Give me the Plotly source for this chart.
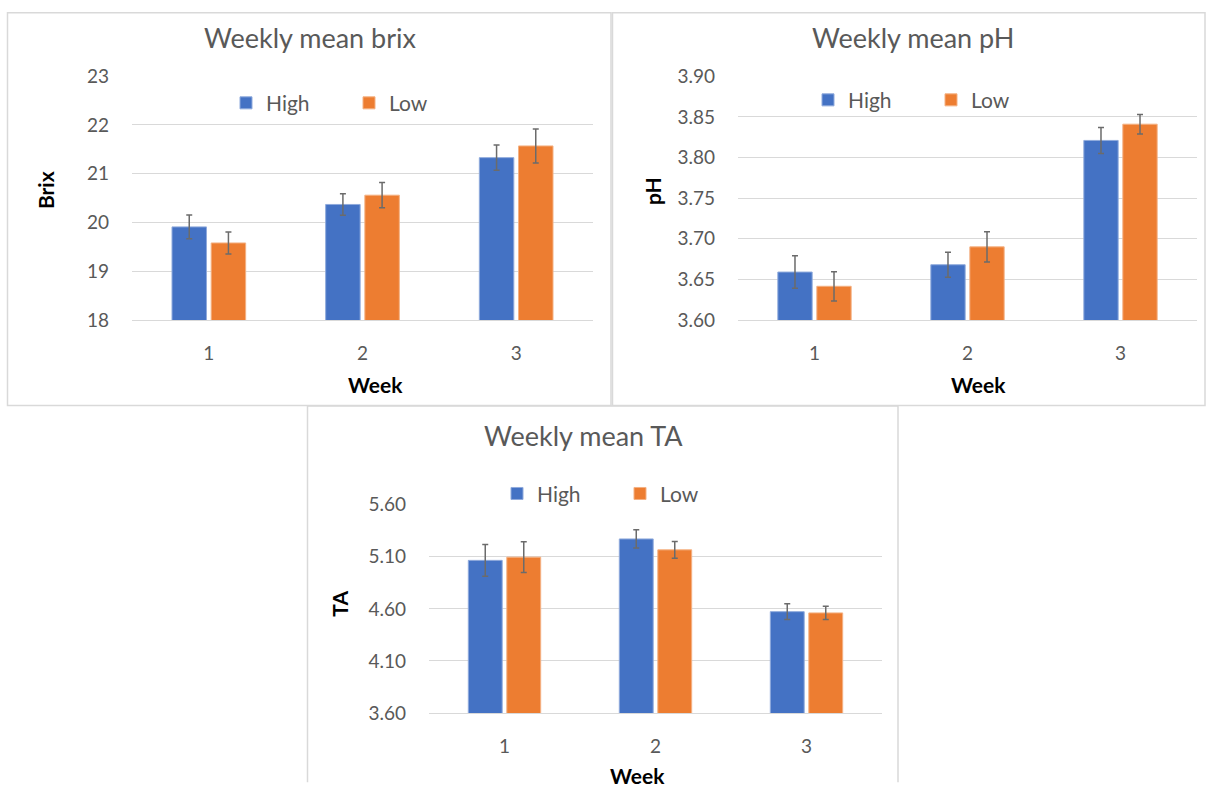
import plotly.graph_objects as go

weeks = ["1", "2", "3"]

brix_high = [19.91, 20.37, 21.33]
brix_high_err = [0.245, 0.22, 0.26]
brix_low = [19.58, 20.56, 21.57]
brix_low_err = [0.225, 0.26, 0.35]

ph_high = [3.659, 3.668, 3.821]
ph_high_err = [0.020, 0.0155, 0.016]
ph_low = [3.6415, 3.690, 3.841]
ph_low_err = [0.018, 0.0185, 0.012]

ta_high = [5.066, 5.272, 4.573]
ta_high_err = [0.153, 0.088, 0.075]
ta_low = [5.097, 5.167, 4.561]
ta_low_err = [0.147, 0.080, 0.063]

W, H = 1207, 794
# vertical placement helpers (target pixel -> page pixel)
YA, YB = 10.7, 0.972
BLUE = "#4472C4"
ORANGE = "#ED7D31"
GRID = "#D9D9D9"
TXT = "#595959"
FONT = "Lato"


def px_x(p):
    return p / W


def px_y(p):
    page = (p - YA) / YB
    page = min(max(page, 0.75), H - 0.75)
    return 1 - page / H


fig = go.Figure()

charts = [
    dict(ax="", high=brix_high, he=brix_high_err, low=brix_low, le=brix_low_err,
         legend="legend"),
    dict(ax="2", high=ph_high, he=ph_high_err, low=ph_low, le=ph_low_err,
         legend="legend2"),
    dict(ax="3", high=ta_high, he=ta_high_err, low=ta_low, le=ta_low_err,
         legend="legend3"),
]

for c in charts:
    for name, vals, errs, col, edge in [
        ("High", c["high"], c["he"], BLUE, "#8FAADC"),
        ("Low", c["low"], c["le"], ORANGE, "#F4B183"),
    ]:
        fig.add_trace(go.Bar(
            x=weeks, y=vals, name=name,
            marker=dict(color=col, line=dict(color=edge, width=1)),
            error_y=dict(type="data", array=errs, color="#6B6B6B",
                         thickness=1.5, width=3),
            xaxis="x" + c["ax"], yaxis="y" + c["ax"],
            legend=c["legend"],
        ))

xdoms = [(132, 593), (738, 1197), (429, 882)]
ydoms = [(75, 319), (75, 319), (504, 712.3)]

layout = dict(
    width=W, height=H,
    margin=dict(l=0, r=0, t=0, b=0),
    paper_bgcolor="white", plot_bgcolor="white",
    barmode="group", bargap=0.49, bargroupgap=0.12,
    showlegend=True,
    font=dict(family=FONT, color=TXT),
)

yranges = [[18, 23], [3.6, 3.9], [3.6, 5.6]]
ytickvals = [[18, 19, 20, 21, 22, 23],
             [3.60, 3.65, 3.70, 3.75, 3.80, 3.85, 3.90],
             [3.60, 4.10, 4.60, 5.10, 5.60]]
yfmt = ["d", ".2f", ".2f"]

for i, suf in enumerate(["", "2", "3"]):
    xd = xdoms[i]
    yd = ydoms[i]
    layout["xaxis" + suf] = dict(
        domain=[px_x(xd[0]), px_x(xd[1])], anchor="y" + suf,
        type="category", showgrid=False, showline=True, linecolor=GRID,
        linewidth=1, ticks="", ticklabelstandoff=16,
        tickfont=dict(family=FONT, size=19, color=TXT),
        fixedrange=True,
    )
    layout["yaxis" + suf] = dict(
        domain=[px_y(yd[1]), px_y(yd[0])], anchor="x" + suf,
        range=yranges[i], tickvals=ytickvals[i], tickformat=yfmt[i],
        ticks="", ticklabelstandoff=22, showline=False,
        showgrid=True, gridcolor=GRID, gridwidth=1, zeroline=False,
        tickfont=dict(family=FONT, size=19, color=TXT),
        fixedrange=True,
    )

leg_common = dict(
    orientation="h", xanchor="left", yanchor="middle",
    font=dict(family=FONT, size=21, color=TXT),
    bgcolor="rgba(0,0,0,0)", entrywidth=78, entrywidthmode="pixels",
    itemclick=False, itemdoubleclick=False,
)
layout["legend"] = dict(x=px_x(226), y=px_y(102), **leg_common)
layout["legend2"] = dict(x=px_x(808), y=px_y(99), **leg_common)
layout["legend3"] = dict(x=px_x(497), y=px_y(493), **leg_common)

fig.update_layout(**layout)

# panel borders
panels = [(7.5, 7.5, 611, 404.5), (612.5, 7.5, 1205, 404.5)]
for x0, y0, x1, y1 in panels:
    fig.add_shape(type="rect", xref="paper", yref="paper",
                  x0=px_x(x0), x1=px_x(x1), y0=px_y(y0), y1=px_y(y1),
                  line=dict(color=GRID, width=1.5), layer="below")
# bottom panel: left, top and right edges (its bottom edge lies off-page)
for (xa, ya, xb, yb) in [(307.5, 405, 307.5, 800), (307.5, 405, 898, 405),
                         (898, 405, 898, 800)]:
    fig.add_shape(type="line", xref="paper", yref="paper",
                  x0=px_x(xa), x1=px_x(xb), y0=px_y(ya), y1=px_y(yb),
                  line=dict(color=GRID, width=1.5), layer="below")

ann = []
titles = [("Weekly mean brix", 310, 36), ("Weekly mean pH", 913, 36),
          ("Weekly mean TA", 583, 435)]
for t, x, y in titles:
    ann.append(dict(text=t, x=px_x(x), y=px_y(y), xref="paper", yref="paper",
                    showarrow=False, xanchor="center", yanchor="middle",
                    font=dict(family=FONT, size=27, color=TXT)))
xtitles = [(375, 384), (978, 384), (637, 775)]
for x, y in xtitles:
    ann.append(dict(text="<b>Week</b>", x=px_x(x), y=px_y(y), xref="paper",
                    yref="paper", showarrow=False, xanchor="center",
                    yanchor="middle",
                    font=dict(family=FONT, size=21, color="black")))
ytitles = [("Brix", 45, 189), ("pH", 652, 190), ("TA", 340, 603)]
for t, x, y in ytitles:
    ann.append(dict(text="<b>" + t + "</b>", x=px_x(x), y=px_y(y),
                    xref="paper", yref="paper", showarrow=False,
                    xanchor="center", yanchor="middle", textangle=-90,
                    font=dict(family=FONT, size=21, color="black")))
fig.update_layout(annotations=ann)

fig.write_html("out.html", post_script="document.body.style.margin='0';",
               config={"displayModeBar": False})
